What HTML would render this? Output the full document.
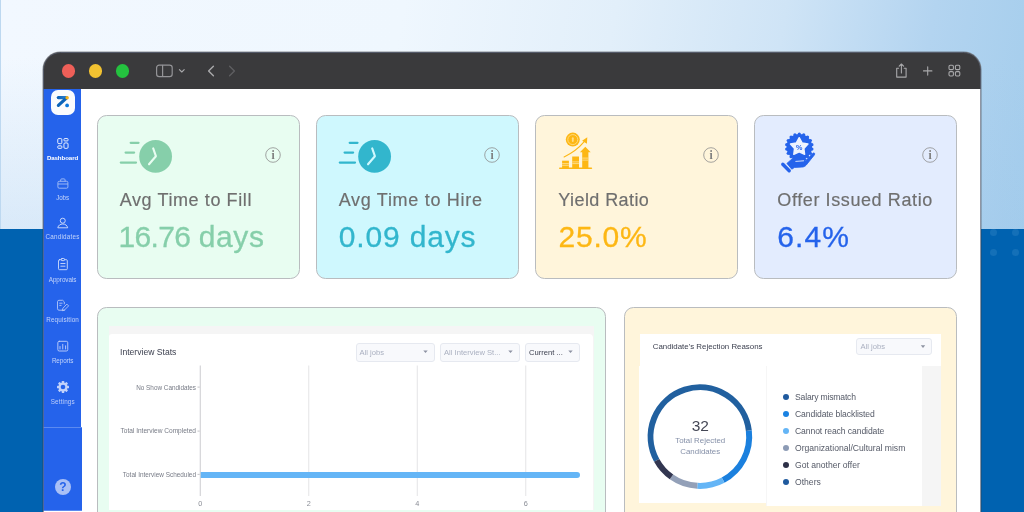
<!DOCTYPE html>
<html lang="en">
<head>
<meta charset="utf-8">
<title>Dashboard</title>
<style>
*{box-sizing:border-box;margin:0;padding:0}
html,body{width:1024px;height:512px;overflow:hidden}
body{position:relative;font-family:"Liberation Sans",sans-serif;background:#0062b0}
.abs{position:absolute}
#sky{left:0;top:0;width:1024px;height:229px;background:linear-gradient(100deg,#f2f8ff 0%,#eff7fe 38%,#e2effa 58%,#cfe4f6 74%,#b3d4f0 88%,#a4cdec 100%)}
#skyfade{left:0;top:0;width:1024px;height:229px;background:linear-gradient(180deg,rgba(160,200,235,0) 25%,rgba(160,200,235,.3) 100%)}
.dot{width:7px;height:7px;border-radius:50%;background:#1470b8}
#win{left:43px;top:51.800px;width:938px;height:470px;border-radius:17.500px 17.500px 0 0;background:#fff;overflow:hidden;box-shadow:0 0 0 .5px rgba(60,60,60,.55)}
#tbar{left:0;top:0;width:938px;height:37.800px;background:#3a3a3c}
.tl{width:13.600px;height:13.600px;border-radius:50%;top:13.300px}
#side{left:0;top:37.800px;width:38px;height:340px;background:#2563eb}
#side2{left:0;top:376.300px;width:39px;height:83.700px;border-bottom:1px solid #5b8af0;background:#2563eb;border-top:1px solid #5b8af0}
.nav{left:.6px;width:38px;margin-top:.4px;text-align:center;color:#c3d4fa;font-size:6.3px;line-height:8px;white-space:nowrap;letter-spacing:-.1px}
.nav.on{color:#fff;font-weight:bold;font-size:6.150px;margin-top:.2px;left:.5px}
.ico{left:13px;width:12px;height:12px}
.card{border:1px solid #b9bcbf;border-radius:9.500px}
.ct{-webkit-text-stroke:.18px #6f6f6f;font-size:18px;line-height:22px;color:#6f6f6f;white-space:nowrap;transform-origin:0 50%}
.cv{-webkit-text-stroke:.3px;font-size:30px;line-height:34px;white-space:nowrap;transform-origin:0 50%}
.info{width:16px;height:16px}
.sm{white-space:nowrap;transform-origin:0 50%}
.dd{border:1px solid #e6e9f0;background:#f8f9fc;border-radius:3px}
.yl{font-size:7.300px;line-height:10px;color:#777b86;left:52.800px;width:100px;text-align:right;transform-origin:100% 50%}
.xl{font-size:7.300px;line-height:10px;color:#8a8d96;top:447.700px;width:20px;text-align:center}
.lg{font-size:8.6px;line-height:10px;color:#555a67;margin-top:.15px;white-space:nowrap;left:752px}
.ld{width:6px;height:6px;border-radius:50%;left:739.5px}
</style>
</head>
<body>
<div id="sky" class="abs"></div>
<div id="skyfade" class="abs"></div>
<div class="abs" style="left:0;top:0;width:1px;height:229px;background:#bdd8f0"></div>
<div class="abs dot" style="left:989.5px;top:229px"></div>
<div class="abs dot" style="left:1012px;top:229px"></div>
<div class="abs dot" style="left:989.5px;top:248.5px"></div>
<div class="abs dot" style="left:1012px;top:248.5px"></div>

<div id="win" class="abs">
<div id="in" class="abs" style="left:0;top:-.8px;width:938px;height:470px">
  <div id="tbar" class="abs">
    <div class="abs tl" style="left:18.700px;background:#ee5f58"></div>
    <div class="abs tl" style="left:45.800px;background:#f2c231"></div>
    <div class="abs tl" style="left:72.700px;background:#24c23f"></div>
    <svg class="abs" style="left:108px;top:10px" width="100" height="20" viewBox="0 0 100 20" fill="none" stroke="#a9a9ab" stroke-width="1.2" stroke-linecap="round" stroke-linejoin="round">
      <rect x="5.6" y="4.2" width="15.6" height="11.4" rx="2.6" stroke="#949497"/>
      <path d="M11.6 4.4V15.4" stroke="#949497"/>
      <path d="M28.4 8.6l2.4 2.4 2.4-2.4" stroke-width="1.1"/>
      <path d="M62.4 5.2L57.6 10l4.8 4.8" stroke-width="1.4"/>
      <path d="M78.6 5.2l4.8 4.8-4.8 4.8" stroke="#5e5e61" stroke-width="1.4"/>
    </svg>
    <svg class="abs" style="left:848px;top:8px" width="80" height="24" viewBox="0 0 80 24" fill="none" stroke="#a9a9ab" stroke-width="1.1" stroke-linecap="round" stroke-linejoin="round">
      <path d="M7.600 9.300H5.700V18.100h9.400V9.300H13.200"/>
      <path d="M10.400 14V5.100M8.200 7.200l2.200-2.200 2.200 2.200"/>
      <path d="M36.700 7.700v8.400M32.500 11.900h8.400"/>
      <rect x="58" y="6.2" width="4.4" height="4.4" rx="1.2"/>
      <rect x="64.4" y="6.2" width="4.4" height="4.4" rx="1.2"/>
      <rect x="58" y="12.6" width="4.4" height="4.4" rx="1.2"/>
      <rect x="64.4" y="12.6" width="4.4" height="4.4" rx="1.2"/>
    </svg>
  </div>

  <div id="side" class="abs"></div>
  <div id="side2" class="abs"></div>

  <div class="abs" style="left:7.6px;top:39.2px;width:24.6px;height:24.6px;border-radius:7px;background:#fafbfd"></div>
  <svg class="abs" style="left:7.6px;top:39.2px" width="24.6" height="24.6" viewBox="0 0 24.6 24.6">
    <defs><linearGradient id="lg1" gradientUnits="userSpaceOnUse" x1="6" y1="0" x2="17" y2="0"><stop offset="0" stop-color="#0a5fb4"/><stop offset="1" stop-color="#2f86d8"/></linearGradient></defs>
    <path d="M7.3 7.6H15.4" stroke="url(#lg1)" stroke-width="3.200" stroke-linecap="round" fill="none"/>
    <path d="M15.6 7.9L7.4 15.4" stroke="#0b63b8" stroke-width="3.200" stroke-linecap="round" fill="none"/>
    <circle cx="16.1" cy="7.8" r="1.75" fill="#f6b21a"/>
    <circle cx="16.1" cy="15.4" r="1.85" fill="#0a78dc"/>
  </svg>

  <svg class="abs" style="left:12px;top:84px" width="16" height="16" viewBox="0 0 16 16" fill="none" stroke="#fff" stroke-width=".9">
    <rect x="2.750" y="3.550" width="4.100" height="5.100" rx="1.100"/>
    <rect x="8.950" y="3.550" width="4.100" height="2.400" rx=".8"/>
    <rect x="2.750" y="10.850" width="4.100" height="2.500" rx=".8"/>
    <rect x="8.950" y="7.950" width="4.100" height="5.400" rx="1.100"/>
  </svg>
  <div class="abs nav on" style="top:102.8px">Dashboard</div>

  <svg class="abs" style="left:12px;top:125px" width="16" height="16" viewBox="0 0 16 16" fill="none" stroke="#a6bef6" stroke-width=".9" stroke-linejoin="round">
    <rect x="2.900" y="5.300" width="10" height="6.900" rx="1.300"/>
    <path d="M5.700 5.300V3.900c0-.6.400-1 1-1h2.400c.6 0 1 .4 1 1V5.300M2.900 8H12.900"/>
  </svg>
  <div class="abs nav" style="top:143.100px">Jobs</div>

  <svg class="abs" style="left:12px;top:164px" width="16" height="16" viewBox="0 0 16 16" fill="none" stroke="#d6e1fb" stroke-width=".9" stroke-linejoin="round">
    <circle cx="7.750" cy="5.700" r="2.500"/>
    <path d="M2.800 12.800c.5-2.500 2.500-3.800 4.950-3.800s4.450 1.300 4.950 3.800z"/>
  </svg>
  <div class="abs nav" style="top:182px;letter-spacing:.22px">Candidates</div>

  <svg class="abs" style="left:12px;top:205px" width="16" height="16" viewBox="0 0 16 16" fill="none" stroke="#d0ddfb" stroke-width=".9" stroke-linejoin="round" stroke-linecap="round">
    <rect x="3.500" y="3.700" width="8.800" height="10" rx="1"/>
    <rect x="6.300" y="2.500" width="3.200" height="2.100" rx=".7" fill="#2563eb"/>
    <path d="M5.800 7.500h4.200M5.800 10.200h4.200"/>
  </svg>
  <div class="abs nav" style="top:224.200px;letter-spacing:-.03px">Approvals</div>

  <svg class="abs" style="left:12px;top:246px" width="16" height="16" viewBox="0 0 16 16" fill="none" stroke="#b4c7f8" stroke-width=".9" stroke-linejoin="round" stroke-linecap="round">
    <path d="M9.700 13.200H3.900c-.8 0-1.400-.6-1.400-1.400V4.700c0-.8.600-1.400 1.400-1.400h3.800l1.600 1.600v2"/>
    <path d="M4.700 6.200h2.400M4.700 8.400h1.400"/>
    <path d="M12.100 7.400l1.500 1.500-4.300 4.300-2 .5.500-2z"/>
  </svg>
  <div class="abs nav" style="top:264.700px;letter-spacing:.15px">Requisition</div>

  <svg class="abs" style="left:12px;top:287px" width="16" height="16" viewBox="0 0 16 16" fill="none" stroke="#c4d3fa" stroke-width=".9" stroke-linecap="round">
    <rect x="2.850" y="3.300" width="9.900" height="9.700" rx="1.400"/>
    <path d="M5 11V8.500M7.750 11V6.300M10.600 11V7.800"/>
  </svg>
  <div class="abs nav" style="top:305.300px">Reports</div>

  <svg class="abs" style="left:12px;top:327.800px" width="16" height="16" viewBox="-8 -8 16 16">
    <g fill="#c2d2fa">
      <circle r="4.500"/>
      <g id="tooth"><rect x="-1.250" y="-6" width="2.500" height="3" rx=".6"/></g>
      <use href="#tooth" transform="rotate(45)"/><use href="#tooth" transform="rotate(90)"/><use href="#tooth" transform="rotate(135)"/>
      <use href="#tooth" transform="rotate(180)"/><use href="#tooth" transform="rotate(225)"/><use href="#tooth" transform="rotate(270)"/><use href="#tooth" transform="rotate(315)"/>
    </g>
    <circle r="2.300" fill="#2563eb"/>
  </svg>
  <div class="abs nav" style="top:346.700px;left:.8px;color:#bccdf9;letter-spacing:.17px">Settings</div>

  <div class="abs" style="left:12px;top:428px;width:16px;height:16px;border-radius:50%;background:#a9c0f6;color:#2563eb;font-weight:bold;font-size:12px;line-height:16.500px;text-align:center">?</div>

  <!-- SIDEBAR-CONTENT -->


  <div class="abs card" id="c1" style="left:54px;top:63.500px;width:203px;height:164px;background:#e8fdf1">
    <svg class="abs" style="left:0;top:.5px" width="80" height="70" viewBox="0 0 80 70" fill="none">
      <circle cx="57.6" cy="40.4" r="16.4" fill="#86cfaa"/>
      <path d="M32.700 26.800H40.500M27.600 36.500H36.100M22.800 46.500H38" stroke="#86cfaa" stroke-width="2.250" stroke-linecap="round"/>
      <path d="M55.200 32.400L57.900 40.200L51 48.300" stroke="#e8fdf1" stroke-width="2.100" stroke-linecap="round" stroke-linejoin="round"/>
    </svg>
    <svg class="abs info" style="left:166.800px;top:31.600px" viewBox="0 0 16 16" fill="none">
      <circle cx="8" cy="8" r="7.300" stroke="#8e8e8e" stroke-width=".8"/>
      <text x="8" y="12" text-anchor="middle" font-family="Liberation Serif,serif" font-weight="bold" font-size="11.500" fill="#7d7d7d">i</text>
    </svg>
    <div class="abs ct" id="t1" style="left:21.7px;top:73.500px;letter-spacing:0.6px">Avg Time to Fill</div>
    <div class="abs cv" id="v1" style="left:20.4px;top:104.800px;letter-spacing:0px;color:#86cfaa"><span style="letter-spacing:-.62px">16.76</span> <span style="letter-spacing:.6px">days</span></div>
  </div>
  <div class="abs card" id="c2" style="left:273px;top:63.500px;width:203px;height:164px;background:#cff8fe">
    <svg class="abs" style="left:0;top:.5px" width="80" height="70" viewBox="0 0 80 70" fill="none">
      <circle cx="57.6" cy="40.4" r="16.4" fill="#32b6cd"/>
      <path d="M32.700 26.800H40.500M27.600 36.500H36.100M22.800 46.500H38" stroke="#32b6cd" stroke-width="2.250" stroke-linecap="round"/>
      <path d="M55.200 32.400L57.900 40.200L51 48.300" stroke="#cff8fe" stroke-width="2.100" stroke-linecap="round" stroke-linejoin="round"/>
    </svg>
    <svg class="abs info" style="left:166.800px;top:31.600px" viewBox="0 0 16 16" fill="none">
      <circle cx="8" cy="8" r="7.300" stroke="#8e8e8e" stroke-width=".8"/>
      <text x="8" y="12" text-anchor="middle" font-family="Liberation Serif,serif" font-weight="bold" font-size="11.500" fill="#7d7d7d">i</text>
    </svg>
    <div class="abs ct" id="t2" style="left:21.7px;top:73.500px;letter-spacing:0.7px">Avg Time to Hire</div>
    <div class="abs cv" id="v2" style="left:21.7px;top:104.800px;letter-spacing:0.85px;color:#32b6cd">0.09 days</div>
  </div>
  <div class="abs card" id="c3" style="left:492px;top:63.500px;width:203px;height:164px;background:#fff5db">
    <svg class="abs" style="left:16px;top:10.500px" width="48" height="48" viewBox="0 0 48 48" fill="none">
      <circle cx="20.800" cy="13.600" r="7" fill="#fdb714"/>
      <circle cx="20.800" cy="13.600" r="5" stroke="#ffdc85" stroke-width=".9"/>
      <rect x="19.900" y="11.300" width="1.800" height="4.600" rx=".9" fill="#ffdc85"/>
      <path d="M12.100 30.900C19 27.600 26.500 22.500 32.200 15.600" stroke="#fdb714" stroke-width="1.100" stroke-linecap="round"/>
      <path d="M35.300 11.300L30.100 14.800L34.900 17.800Z" fill="#fdb714"/>
      <rect x="10.100" y="34.700" width="6.800" height="7.500" fill="#fdb714"/>
      <rect x="20.200" y="30.500" width="6.800" height="11.700" fill="#fdb714"/>
      <path d="M33.300 20.700L38.700 26.300H36.400V42.200H30.200V26.300H27.900Z" fill="#fdb714"/>
      <path d="M10.100 37.600h6.800M10.100 39.300h6.800M20.200 35.900h6.800M20.200 37.600h6.800M30.200 32.100h6.200M30.200 34.100h6.200" stroke="#ffdf8e" stroke-width=".9"/>
      <rect x="7" y="41.500" width="33.200" height="1.600" rx=".8" fill="#fdb714"/>
    </svg>
    <svg class="abs info" style="left:166.800px;top:31.600px" viewBox="0 0 16 16" fill="none">
      <circle cx="8" cy="8" r="7.300" stroke="#8e8e8e" stroke-width=".8"/>
      <text x="8" y="12" text-anchor="middle" font-family="Liberation Serif,serif" font-weight="bold" font-size="11.500" fill="#7d7d7d">i</text>
    </svg>
    <div class="abs ct" id="t3" style="left:22.300px;top:73.500px;letter-spacing:0.42px">Yield Ratio</div>
    <div class="abs cv" id="v3" style="left:22.5px;top:104.800px;letter-spacing:0.8px;color:#fdb714">25.0%</div>
  </div>
  <div class="abs card" id="c4" style="left:711px;top:63.500px;width:203px;height:164px;background:#e3ecfe">
    <svg class="abs" style="left:19px;top:10.500px" width="48" height="48" viewBox="0 0 48 48" fill="none">
      <circle cx="25.3" cy="20.9" r="12.8" fill="#2563eb"/><circle cx="37.91" cy="23.12" r="1.6" fill="#2563eb"/><circle cx="36.39" cy="27.30" r="1.6" fill="#2563eb"/><circle cx="33.53" cy="30.71" r="1.6" fill="#2563eb"/><circle cx="29.68" cy="32.93" r="1.6" fill="#2563eb"/><circle cx="25.30" cy="33.70" r="1.6" fill="#2563eb"/><circle cx="20.92" cy="32.93" r="1.6" fill="#2563eb"/><circle cx="17.07" cy="30.71" r="1.6" fill="#2563eb"/><circle cx="14.21" cy="27.30" r="1.6" fill="#2563eb"/><circle cx="12.69" cy="23.12" r="1.6" fill="#2563eb"/><circle cx="12.69" cy="18.68" r="1.6" fill="#2563eb"/><circle cx="14.21" cy="14.50" r="1.6" fill="#2563eb"/><circle cx="17.07" cy="11.09" r="1.6" fill="#2563eb"/><circle cx="20.92" cy="8.87" r="1.6" fill="#2563eb"/><circle cx="25.30" cy="8.10" r="1.6" fill="#2563eb"/><circle cx="29.68" cy="8.87" r="1.6" fill="#2563eb"/><circle cx="33.53" cy="11.09" r="1.6" fill="#2563eb"/><circle cx="36.39" cy="14.50" r="1.6" fill="#2563eb"/><circle cx="37.91" cy="18.68" r="1.6" fill="#2563eb"/>
      <polygon points="25.20,11.70 28.08,16.94 33.95,18.06 29.86,22.41 30.61,28.34 25.20,25.80 19.79,28.34 20.54,22.41 16.45,18.06 22.32,16.94" fill="#eef3fe" stroke="#eef3fe" stroke-width="1.400" stroke-linejoin="round"/>
      <text x="25.200" y="23.800" text-anchor="middle" font-family="Liberation Sans,sans-serif" font-weight="bold" font-size="7.200" fill="#2563eb">%</text>
      <path d="M8.800 38.300L15.200 44.700" stroke="#2563eb" stroke-width="3.400" stroke-linecap="round"/>
      <path d="M12.900 37.400L19.800 31.300C21.500 30 23.600 30 26 30.700L31.200 32.200C32.600 32.700 32.400 34.300 31 34.500L22.400 35.300L31.400 35.100L38.800 27.300C40.100 26.200 41.400 27.500 40.400 28.900L32.300 39C31.100 40.400 29.700 41 27.900 41.100L20.400 41.500L17.800 43.200Z" fill="#2563eb" stroke="#2563eb" stroke-width=".8" stroke-linejoin="round"/>
      <path d="M21.800 35.400L29.600 34.800" stroke="#e3ecfe" stroke-width=".9" stroke-linecap="round"/>
    </svg>
    <svg class="abs info" style="left:166.800px;top:31.600px" viewBox="0 0 16 16" fill="none">
      <circle cx="8" cy="8" r="7.300" stroke="#8e8e8e" stroke-width=".8"/>
      <text x="8" y="12" text-anchor="middle" font-family="Liberation Serif,serif" font-weight="bold" font-size="11.500" fill="#7d7d7d">i</text>
    </svg>
    <div class="abs ct" id="t4" style="left:22.300px;top:73.500px;letter-spacing:0.6px">Offer Issued Ratio</div>
    <div class="abs cv" id="v4" style="left:22.2px;top:104.800px;letter-spacing:1.1px;color:#2563eb">6.4%</div>
  </div>
  <!-- CARDS -->


  <div class="abs card" id="pa" style="left:54px;top:255.600px;width:509px;height:231px;background:#e8fdf1"></div>
  <div class="abs" style="left:65.900px;top:274.800px;width:485.100px;height:184.200px;background:#f5f5f5"></div>
  <div class="abs" style="left:65.900px;top:282.800px;width:483.700px;height:176.200px;background:#fff;border-radius:3px 4px 0 0"></div>
  <div class="abs sm" id="ist" style="left:77px;top:295.500px;font-size:8.600px;line-height:11px;color:#3d4150">Interview Stats</div>

  <div class="abs dd" style="left:312.500px;top:292px;width:79px;height:18.800px"></div>
  <div class="abs sm" id="dd1" style="left:316.500px;top:296.500px;font-size:7.600px;line-height:10px;color:#aab0c0">All jobs</div>
  <div class="abs dd" style="left:397px;top:292px;width:79.500px;height:18.800px"></div>
  <div class="abs sm" id="dd2" style="left:401px;top:296.500px;font-size:7.600px;line-height:10px;color:#aab0c0">All Interview St...</div>
  <div class="abs dd" style="left:482px;top:292px;width:55px;height:18.800px"></div>
  <div class="abs sm" id="dd3" style="left:486px;top:296.500px;font-size:7.600px;line-height:10px;color:#3d4150">Current ...</div>
  <svg class="abs" style="left:54px;top:256px" width="509" height="210" viewBox="97 307 509 210" fill="none">
    <path d="M423.300 350.500h4.400l-2.200 2.600zM508.300 350.500h4.400l-2.200 2.600zM568.300 350.500h4.400l-2.200 2.600z" fill="#8e93a3"/>
    <path d="M308.750 365.500V496M417.250 365.500V496M525.750 365.500V496" stroke="#e4e4e6" stroke-width="1"/>
    <path d="M200.250 365.500V496" stroke="#cbcbd0" stroke-width="1"/>
    <path d="M197.500 387.100h2.200M197.500 431.100h2.200M197.500 474.400h2.200" stroke="#b5b5ba" stroke-width=".8"/>
    <path d="M200.700 472H577a3 3 0 0 1 0 6H200.700z" fill="#64b5f6"/>
  </svg>
  <div class="abs sm yl" id="y1" style="top:331.500px;transform:scaleX(.872)">No Show Candidates</div>
  <div class="abs sm yl" id="y2" style="top:375px;transform:scaleX(.90)">Total Interview Completed</div>
  <div class="abs sm yl" id="y3" style="top:418.700px;transform:scaleX(.88)">Total Interview Scheduled</div>
  <div class="abs sm xl" style="left:147.250px">0</div>
  <div class="abs sm xl" style="left:255.750px">2</div>
  <div class="abs sm xl" style="left:364.250px">4</div>
  <div class="abs sm xl" style="left:472.750px">6</div>

  <div class="abs card" id="pb" style="left:581.200px;top:255.600px;width:332.600px;height:231px;background:#fff5db"></div>
  <div class="abs" style="left:596.600px;top:282.800px;width:301.700px;height:33px;background:#fff"></div>
  <div class="abs" style="left:596px;top:314.500px;width:127px;height:137.200px;background:#fff"></div>
  <div class="abs" style="left:722.800px;top:314.500px;width:156.200px;height:140.500px;background:#fff;border-left:.6px solid #f6f6f6"></div>
  <div class="abs" style="left:878.800px;top:314.500px;width:19.300px;height:140.500px;background:#f5f5f5"></div>
  <div class="abs sm" id="crr" style="left:609.700px;top:290.500px;font-size:7.900px;line-height:10px;color:#3d4150">Candidate's Rejection Reasons</div>
  <div class="abs dd" style="left:813.200px;top:287.200px;width:75.600px;height:17.200px"></div>
  <div class="abs sm" id="dd4" style="left:817.500px;top:291px;font-size:7.600px;line-height:10px;color:#aab0c0">All jobs</div>
  <svg class="abs" style="left:581px;top:256px" width="334" height="210" viewBox="624 307 334 210" fill="none">
    <path d="M920.800 345.300h4.400l-2.200 2.600z" fill="#8e93a3"/>
    <path d="M656.70 460.35A49.3 49.3 0 1 1 748.83 430.59" stroke="#21609f" stroke-width="6"/>
    <path d="M748.83 430.59A49.3 49.3 0 0 1 723.12 480.09" stroke="#1b80de" stroke-width="6"/>
    <path d="M723.12 480.09A49.3 49.3 0 0 1 697.32 485.83" stroke="#64b5f6" stroke-width="6"/>
    <path d="M697.32 485.83A49.3 49.3 0 0 1 671.48 476.89" stroke="#93a0b8" stroke-width="6"/>
    <path d="M671.48 476.89A49.3 49.3 0 0 1 656.70 460.35" stroke="#323650" stroke-width="6"/>
    
  </svg>
  <div class="abs" id="n32" style="left:627px;top:365.500px;width:60.500px;text-align:center;font-size:15.500px;line-height:18px;color:#454856">32</div>
  <div class="abs" id="trc" style="left:617px;top:385.300px;width:80.500px;text-align:center;font-size:7.900px;line-height:10.900px;color:#8590a8">Total Rejected<br>Candidates</div>
  <div class="abs ld" style="top:342.7px;background:#1f5a9e"></div><div class="abs lg sm" id="l1" style="top:340.7px;letter-spacing:-.18px">Salary mismatch</div>
  <div class="abs ld" style="top:359.7px;background:#1a82e2"></div><div class="abs lg sm" id="l2" style="top:357.7px;letter-spacing:-.1px">Candidate blacklisted</div>
  <div class="abs ld" style="top:376.7px;background:#64b5f6"></div><div class="abs lg sm" id="l3" style="top:374.7px;letter-spacing:-.09px">Cannot reach candidate</div>
  <div class="abs ld" style="top:393.8px;background:#8c9bb5"></div><div class="abs lg sm" id="l4" style="top:391.8px">Organizational/Cultural mism</div>
  <div class="abs ld" style="top:410.8px;background:#2d3047"></div><div class="abs lg sm" id="l5" style="top:408.8px">Got another offer</div>
  <div class="abs ld" style="top:427.8px;background:#1f5a9e"></div><div class="abs lg sm" id="l6" style="top:425.8px">Others</div>
  

  <!-- PANELS -->
</div>
<div class="abs" style="left:0;top:0;width:938px;height:470px;border:1px solid rgba(96,104,124,.7);border-radius:17.500px 17.500px 0 0"></div>
</div>
</body>
</html>
